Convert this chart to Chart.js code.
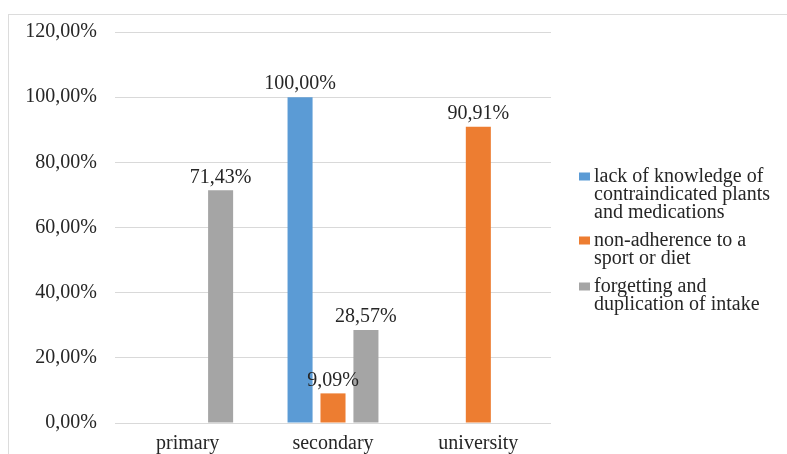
<!DOCTYPE html>
<html>
<head>
<meta charset="utf-8">
<script src="https://cdn.jsdelivr.net/npm/chart.js@4/dist/chart.umd.min.js"></script>
<style>
  html, body { margin: 0; padding: 0; background: #fff; overflow: hidden; }
  #wrap { position: relative; width: 787px; height: 454px; }
  #frame { position: absolute; left: 8px; top: 14px; width: 820px; height: 500px;
           border: 1px solid #dcdcdc; box-sizing: border-box; pointer-events: none; }
  canvas { position: absolute; left: 0; top: 0; }
</style>
</head>
<body>
<div id="wrap">
  <div id="frame"></div>
  <canvas id="chart" width="787" height="454"></canvas>
</div>
<script>
const categories = ["primary", "secondary", "university"];
const seriesNames = [
  "lack of knowledge of contraindicated plants and medications",
  "non-adherence to a sport or diet",
  "forgetting and duplication of intake"
];
const lackOfKnowledge = [0, 100, 0];
const nonAdherence = [0, 9.09, 90.91];
const forgetting = [71.43, 28.57, 0];
const seriesColors = ["#5b9bd5", "#ed7d31", "#a5a5a5"];

const FONT = "'Liberation Serif', 'Times New Roman', serif";
const TEXT = "#262626";
const SIZE = 20;

const pct = v => Number(v).toFixed(2).replace(".", ",") + "%";

// value labels above every non-zero bar
const barLabels = {
  id: "barLabels",
  afterDatasetsDraw(chart) {
    const ctx = chart.ctx;
    ctx.save();
    ctx.font = SIZE + "px " + FONT;
    ctx.fillStyle = TEXT;
    ctx.textAlign = "center";
    ctx.textBaseline = "middle";
    chart.data.datasets.forEach((ds, i) => {
      chart.getDatasetMeta(i).data.forEach((bar, j) => {
        const v = ds.data[j];
        if (!v) return;
        ctx.fillText(pct(v), bar.x, bar.y - 13);
      });
    });
    ctx.restore();
  }
};

// legend on the right with wrapped labels
const sideLegend = {
  id: "sideLegend",
  afterDraw(chart) {
    const ctx = chart.ctx;
    const area = chart.chartArea;
    const lineH = 18, gap = 10, maxW = 185;
    ctx.save();
    ctx.font = SIZE + "px " + FONT;
    ctx.textBaseline = "middle";
    const items = seriesNames.map(name => {
      const lines = [];
      let cur = "";
      name.split(" ").forEach(w => {
        const t = cur ? cur + " " + w : w;
        if (ctx.measureText(t).width > maxW && cur) { lines.push(cur); cur = w; }
        else cur = t;
      });
      lines.push(cur);
      return lines;
    });
    const total = items.reduce((a, l) => a + l.length * lineH, 0) + gap * (items.length - 1);
    let y = (area.top + area.bottom) / 2 + 13 - total / 2 + lineH / 2;
    const x = area.right + 28;
    items.forEach((lines, i) => {
      ctx.fillStyle = seriesColors[i];
      ctx.fillRect(x, y - 4, 11, 8);
      ctx.fillStyle = TEXT;
      lines.forEach((ln, k) => ctx.fillText(ln, x + 15, y + k * lineH));
      y += lines.length * lineH + gap;
    });
    ctx.restore();
  }
};

const data = [lackOfKnowledge, nonAdherence, forgetting];

new Chart(document.getElementById("chart"), {
  type: "bar",
  data: {
    labels: categories,
    datasets: data.map((d, i) => ({
      label: seriesNames[i],
      data: d,
      backgroundColor: seriesColors[i],
      barPercentage: 0.76,
      categoryPercentage: 0.68
    }))
  },
  options: {
    responsive: false,
    animation: false,
    layout: { padding: { top: 32, right: 236, left: 0, bottom: 0 } },
    plugins: { legend: { display: false }, tooltip: { enabled: false } },
    scales: {
      x: {
        grid: { display: false, drawTicks: false },
        border: { display: false },
        ticks: { color: TEXT, font: { family: FONT, size: SIZE }, padding: 9 },
        afterFit: s => { s.height = 31; }
      },
      y: {
        min: 0,
        max: 120,
        ticks: { stepSize: 20, color: TEXT, font: { family: FONT, size: SIZE }, padding: 18, callback: v => pct(v) },
        grid: { color: "#d9d9d9", drawTicks: false },
        border: { display: false },
        afterFit: s => { s.width = 115; }
      }
    }
  },
  plugins: [barLabels, sideLegend]
});
</script>
</body>
</html>
